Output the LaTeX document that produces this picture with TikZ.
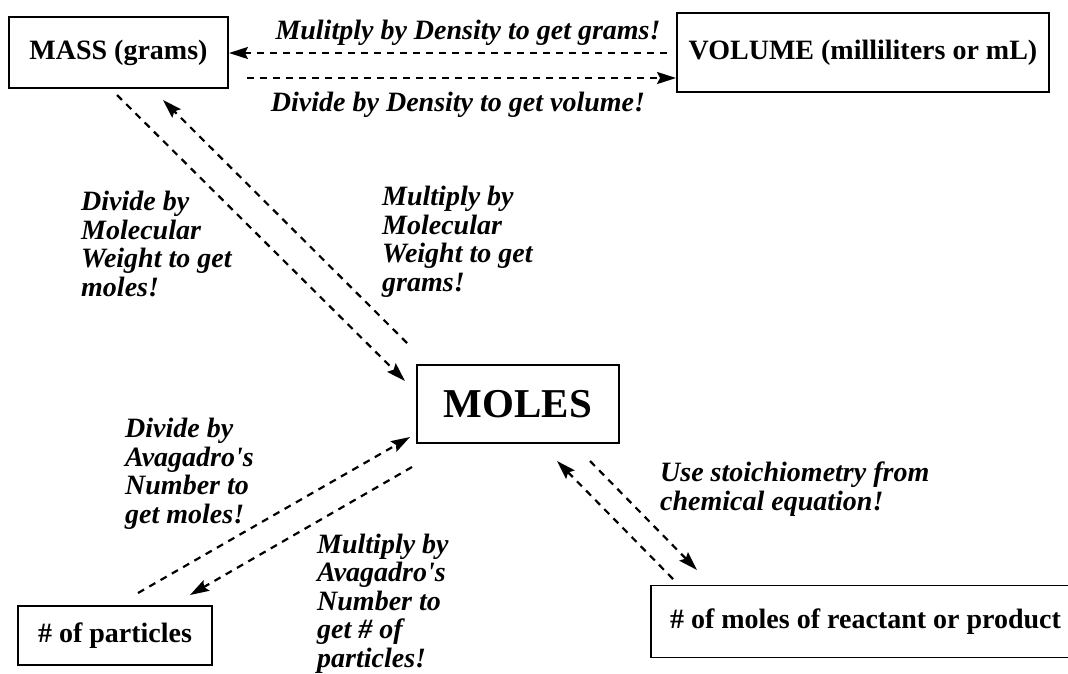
\documentclass[tikz,border=0pt]{standalone}
\usepackage{fontspec}
\setmainfont{Liberation Serif}
\usetikzlibrary{arrows.meta}
\newcommand{\boxfont}{\fontsize{28}{30}\selectfont\bfseries}
\newcommand{\bigfont}{\fontsize{41}{45}\selectfont\bfseries}
\newcommand{\notefont}{\fontsize{28}{28.5}\selectfont\bfseries\itshape}
\tikzstyle{box}=[draw,line width=1.9pt,inner sep=0pt,font=\boxfont]
\tikzstyle{note}=[inner sep=0pt,align=left,anchor=base west,font=\notefont]
\tikzstyle{flow}=[line width=2.2pt,dash pattern=on 7pt off 6pt,-{Stealth[length=19pt,width=12pt,inset=3pt]}]

\begin{document}
\begin{tikzpicture}[x=1pt,y=-1pt]
    \useasboundingbox (0,0) rectangle (1068,673);
    \node[box,minimum width=219pt,minimum height=71pt] (mass) at (118.5,52.5) {MASS (grams)};
    \node[box,minimum width=372pt,minimum height=79pt] (volume) at (863,52.5) {VOLUME (milliliters or mL)};
    \node[box,font=\bigfont,minimum width=202pt,minimum height=78pt] (moles) at (518,404) {MOLES};
    \node[box,minimum width=194pt,minimum height=59pt] (particles) at (115,635.5) {\# of particles};
    \node[box,minimum width=429pt,minimum height=72pt] (reactant) at (865.5,621.5) {\# of moles of reactant or product};

    % labels (placed by the baseline of their last line)
    \node[note,anchor=base] (mulden) at (468,39) {Mulitply by Density to get grams!};
    \node[note,anchor=base] (divden) at (458,111) {Divide by Density to get volume!};
    \node[note] (divmw) at (81,296) {Divide by\\Molecular\\Weight to get\\moles!};
    \node[note] (mulmw) at (382,291) {Multiply by\\Molecular\\Weight to get\\grams!};
    \node[note] (divav) at (125,523) {Divide by\\Avagadro\textquotesingle s\\Number to\\get moles!};
    \node[note] (mulav) at (317,667) {Multiply by\\Avagadro\textquotesingle s\\Number to\\get \# of\\particles!};
    \node[note] (stoich) at (660,510) {Use stoichiometry from\\chemical equation!};

    % arrow ends
    \coordinate (v1) at (667,53);
    \coordinate (v2) at (mass.east |- v1);
    \coordinate (m1) at (247,78);
    \coordinate (m2) at (volume.west |- m1);
    \coordinate (g1) at (117,95);
    \coordinate (g2) at (405,381);
    \coordinate (w1) at (407,343);
    \coordinate (w2) at (163,100);
    \coordinate (p1) at (138,593);
    \coordinate (p2) at (410,437);
    \coordinate (n1) at (412,467);
    \coordinate (n2) at (190,595);
    \coordinate (r1) at (673,579);
    \coordinate (r2) at (557,461);
    \coordinate (s1) at (590,461);
    \coordinate (s2) at (697,570);

    \foreach \from/\to in {v1/v2,m1/m2,g1/g2,w1/w2,p1/p2,n1/n2,r1/r2,s1/s2}
    \draw[flow] (\from) -- (\to);
\end{tikzpicture}
\end{document}
